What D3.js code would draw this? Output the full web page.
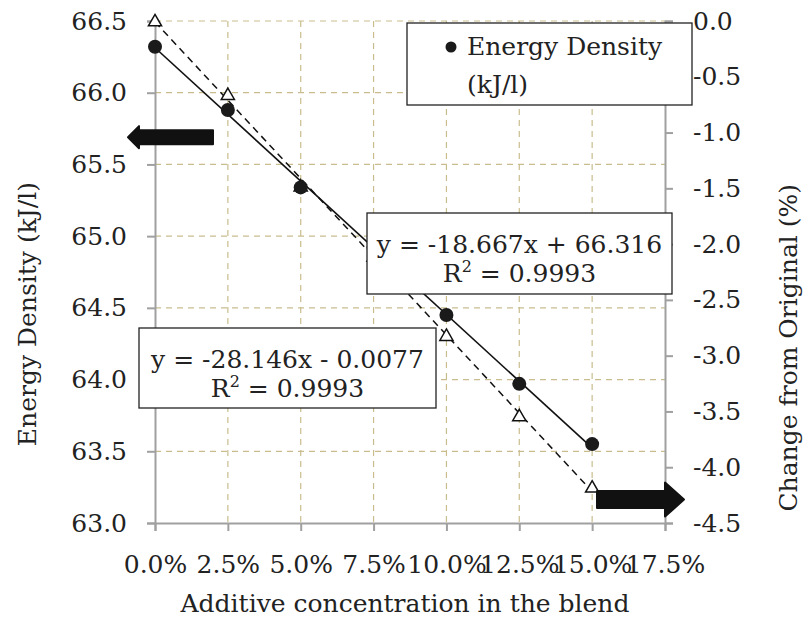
<!DOCTYPE html>
<html><head><meta charset="utf-8">
<script src="https://cdn.jsdelivr.net/npm/d3@7"></script>
<style>
body{margin:0;background:#fff}
text{font-family:"DejaVu Serif",serif;fill:#222}
</style>
</head><body>
<svg id="c" width="809" height="619"></svg>
<script>
const concentration = [0, 0.025, 0.05, 0.075, 0.10, 0.125, 0.15];
const energyDensity = [66.32, 65.88, 65.34, 64.92, 64.45, 63.97, 63.55];
const changeFromOriginal = [0.0, -0.66, -1.48, -2.11, -2.82, -3.54, -4.18];
const xTicks = [0, 0.025, 0.05, 0.075, 0.10, 0.125, 0.15, 0.175];
const leftTicks = [63.0, 63.5, 64.0, 64.5, 65.0, 65.5, 66.0, 66.5];
const rightTicks = [0.0, -0.5, -1.0, -1.5, -2.0, -2.5, -3.0, -3.5, -4.0, -4.5];
const legendLabel = ["Energy Density", "(kJ/l)"];
const eqEnergy = ["y = -18.667x + 66.316", "0.9993"];
const eqChange = ["y = -28.146x - 0.0077", "0.9993"];
const xTitle = "Additive concentration in the blend";
const yLeftTitle = "Energy Density (kJ/l)";
const yRightTitle = "Change from Original (%)";

const svg = d3.select("#c");
const L = 155, R = 665, T = 21, B = 523;
const x = d3.scaleLinear().domain([0, 0.175]).range([L, R]);
const yL = d3.scaleLinear().domain([63, 66.5]).range([B, T]);
const yR = d3.scaleLinear().domain([-4.5, 0]).range([B, T]);
const FS = 25;
const gridColor = "#c9bd8e", axisColor = "#a0a0a0";
const fmt = d => d3.format(".1f")(d).replace("−", "-");

// grid
svg.append("g").selectAll("line").data(leftTicks.slice(1)).join("line")
  .attr("x1", L).attr("x2", R).attr("y1", d => yL(d)).attr("y2", d => yL(d))
  .attr("stroke", gridColor).attr("stroke-width", 1.2).attr("stroke-dasharray", "6,5");
svg.append("g").selectAll("line").data(xTicks.slice(1, -1)).join("line")
  .attr("x1", d => x(d)).attr("x2", d => x(d)).attr("y1", T).attr("y2", B)
  .attr("stroke", gridColor).attr("stroke-width", 1.2).attr("stroke-dasharray", "6,5");

function styleAxis(g){
  g.select(".domain").attr("stroke", axisColor).attr("stroke-width", 2);
  g.selectAll(".tick line").attr("stroke", axisColor).attr("stroke-width", 2);
  g.selectAll(".tick text").attr("font-size", FS).attr("fill", "#222")
    .attr("font-family", '"DejaVu Serif",serif');
}
const ax = svg.append("g").attr("transform", `translate(0,${B})`)
  .call(d3.axisBottom(x).tickValues(xTicks).tickFormat(d3.format(".1%")).tickSizeOuter(0).tickSize(8).tickPadding(24));
styleAxis(ax);
const al = svg.append("g").attr("transform", `translate(${L},0)`)
  .call(d3.axisLeft(yL).tickValues(leftTicks).tickFormat(fmt).tickSizeOuter(0).tickSize(8).tickPadding(20));
styleAxis(al);
const ar = svg.append("g").attr("transform", `translate(${R},0)`)
  .call(d3.axisRight(yR).tickValues(rightTicks).tickFormat(fmt).tickSizeOuter(0).tickSize(8).tickPadding(20));
styleAxis(ar);

// regression trendlines
function fit(xs, ys){
  const n = xs.length, mx = d3.mean(xs), my = d3.mean(ys);
  let sxy = 0, sxx = 0;
  for (let i = 0; i < n; i++){ sxy += (xs[i]-mx)*(ys[i]-my); sxx += (xs[i]-mx)**2; }
  const m = sxy/sxx; return {m, b: my - m*mx};
}
const fE = fit(concentration, energyDensity);
const fC = fit(concentration, changeFromOriginal);
const x0 = concentration[0], x1 = concentration[concentration.length-1];
svg.append("line").attr("x1", x(x0)).attr("x2", x(x1))
  .attr("y1", yR(fC.m*x0 + fC.b)).attr("y2", yR(fC.m*x1 + fC.b))
  .attr("stroke", "#111").attr("stroke-width", 1.5).attr("stroke-dasharray", "7,5");
svg.append("line").attr("x1", x(x0)).attr("x2", x(x1))
  .attr("y1", yL(fE.m*x0 + fE.b)).attr("y2", yL(fE.m*x1 + fE.b))
  .attr("stroke", "#111").attr("stroke-width", 1.6);

// triangles
const tri = d3.symbol().type(d3.symbolTriangle).size(75);
svg.append("g").selectAll("path").data(concentration).join("path")
  .attr("d", tri)
  .attr("transform", (d,i) => `translate(${x(d)},${yR(changeFromOriginal[i])+1})`)
  .attr("fill", "#fff").attr("stroke", "#111").attr("stroke-width", 1.5);
// circles
svg.append("g").selectAll("circle").data(concentration).join("circle")
  .attr("cx", d => x(d)).attr("cy", (d,i) => yL(energyDensity[i]))
  .attr("r", 7).attr("fill", "#1a1a1a");

// equation boxes
function eqBox(x0b, top, w, h, lines){
  const cx = x0b + w/2;
  svg.append("rect").attr("x", x0b).attr("y", top).attr("width", w).attr("height", h)
    .attr("fill", "#fff").attr("stroke", "#222").attr("stroke-width", 1.3);
  svg.append("text").attr("x", cx).attr("y", top + 40).attr("text-anchor", "middle")
    .attr("font-size", FS).text(lines[0]);
  const t = svg.append("text").attr("x", cx).attr("y", top + 69).attr("text-anchor", "middle")
    .attr("font-size", FS);
  t.append("tspan").text("R");
  t.append("tspan").attr("font-size", 16).attr("dy", -10).text("2");
  t.append("tspan").attr("dy", 10).text(" = " + lines[1]);
}
eqBox(367, 213, 305, 81, eqEnergy);
eqBox(139, 328, 297, 80, eqChange);

// legend
svg.append("rect").attr("x", 407).attr("y", 23).attr("width", 285).attr("height", 82)
  .attr("fill", "#fff").attr("stroke", "#222").attr("stroke-width", 1.3);
svg.append("circle").attr("cx", 451).attr("cy", 47).attr("r", 5.5).attr("fill", "#1a1a1a");
svg.append("text").attr("x", 467).attr("y", 55).attr("font-size", FS).text(legendLabel[0]);
svg.append("text").attr("x", 467).attr("y", 93).attr("font-size", FS).text(legendLabel[1]);

// arrows
function arrow(tipX, tailX, yc, body, headW, headL){
  const dir = tipX < tailX ? 1 : -1;
  const hx = tipX + dir*headL;
  const p = d3.path();
  p.moveTo(tipX, yc);
  p.lineTo(hx, yc - headW/2);
  p.lineTo(hx, yc - body/2);
  p.lineTo(tailX, yc - body/2);
  p.lineTo(tailX, yc + body/2);
  p.lineTo(hx, yc + body/2);
  p.lineTo(hx, yc + headW/2);
  p.closePath();
  svg.append("path").attr("d", p.toString()).attr("fill", "#111")
    .attr("stroke", "#111").attr("stroke-width", 2).attr("stroke-linejoin", "round");
}
arrow(128, 213, yL(65.69), 14, 22, 11);
arrow(684, 597, yR(-4.29), 17, 34, 19);

// titles
svg.append("text").attr("x", 405).attr("y", 612).attr("text-anchor", "middle")
  .attr("font-size", FS).text(xTitle);
svg.append("text").attr("transform", `translate(36,182) rotate(-90)`).attr("text-anchor", "end")
  .attr("font-size", FS).text(yLeftTitle);
svg.append("text").attr("transform", `translate(797,184) rotate(-90)`).attr("text-anchor", "end")
  .attr("font-size", FS).text(yRightTitle);
</script>
</body></html>
